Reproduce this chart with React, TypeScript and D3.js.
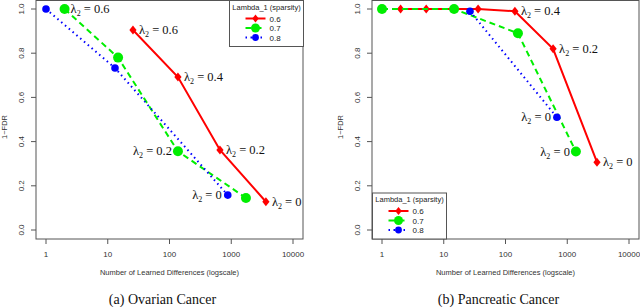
import * as d3 from 'd3';
import React from 'react';

// tick labels
const xTicks = [1, 10, 100, 1000, 10000];
const yTicks = [0, 0.2, 0.4, 0.6, 0.8, 1.0];
const legendLabels = ['0.6', '0.7', '0.8'];

// (a) Ovarian cancer
const ovRedX = [25.6, 137, 656, 3640];
const ovRedY = [0.905, 0.692, 0.362, 0.128];
const ovRedLab = ['0.6', '0.4', '0.2', '0'];
const ovGreenX = [2, 14.7, 137, 1730];
const ovGreenY = [1.0, 0.78, 0.356, 0.145];
const ovGreenLab = ['0.6', null, '0.2', null];
const ovBlueX = [1, 13.1, 878];
const ovBlueY = [1.0, 0.733, 0.158];
const ovBlueLab = [null, null, '0'];

// (b) Pancreatic cancer
const paRedX = [2, 5.2, 36, 142, 590, 3030];
const paRedY = [1.0, 1.0, 1.0, 0.99, 0.82, 0.307];
const paRedLab = [null, null, null, '0.4', '0.2', '0'];
const paGreenX = [1, 14.7, 159, 1380];
const paGreenY = [1.0, 1.0, 0.89, 0.355];
const paGreenLab = [null, null, null, '0'];
const paBlueX = [26.6, 680];
const paBlueY = [0.99, 0.51];
const paBlueLab = [null, '0'];

const RED = '#ff0000';
const GREEN = '#00ee00';
const BLUE = '#0000ff';
const SANS = "'Liberation Sans', Arial, sans-serif";
const SERIF = "'Liberation Serif', 'Times New Roman', serif";

const styles = [
  { color: RED, dash: undefined, marker: 'diamond', r: 4.5 },
  { color: GREEN, dash: '6,4', marker: 'circle', r: 5 },
  { color: BLUE, dash: '1.5,3.5', marker: 'circle', r: 3.8 },
];

const Marker = ({ kind, x, y, r, color }) =>
  kind === 'diamond' ? (
    <path d={`M${x},${y - r}L${x + r * 0.8},${y}L${x},${y + r}L${x - r * 0.8},${y}Z`} fill={color} />
  ) : (
    <circle cx={x} cy={y} r={r} fill={color} />
  );

const Lam = ({ x, y, value, anchor }) => (
  <text x={x} y={y + 4} style={{ fontFamily: SERIF }} fontSize={12.5} textAnchor={anchor} fill="#111">
    λ<tspan fontSize={8} dy={3}>2</tspan>
    <tspan dy={-3}> = {value}</tspan>
  </text>
);

const Legend = ({ x, y }) => (
  <g>
    <rect x={x} y={y} width={74} height={46} fill="white" stroke="#555" />
    <text x={x + 37} y={y + 9} style={{ fontFamily: SANS }} fontSize={7.5} textAnchor="middle" fill="#222">
      Lambda_1 (sparsity)
    </text>
    {styles.map((s, i) => {
      const ly = y + 18 + i * 9.5;
      return (
        <g key={i}>
          <line x1={x + 16} x2={x + 36} y1={ly} y2={ly} stroke={s.color} strokeWidth={2} strokeDasharray={s.dash} />
          <Marker kind={s.marker} x={x + 26} y={ly} r={s.r * 0.9} color={s.color} />
          <text x={x + 40} y={ly + 3} style={{ fontFamily: SANS }} fontSize={8} fill="#222">
            {legendLabels[i]}
          </text>
        </g>
      );
    })}
  </g>
);

const Panel = ({ left, series, labelSides, caption, legendPos }) => {
  const x0 = left;
  const x1 = left + 267;
  const xScale = d3.scaleLog().domain([1, 10000]).range([x0 + 10, x1 - 10]);
  const yScale = d3.scaleLinear().domain([0, 1]).range([230, 9]);
  const line = d3
    .line()
    .x((d) => xScale(d[0]))
    .y((d) => yScale(d[1]));

  return (
    <g>
      <rect x={x0} y={0.5} width={x1 - x0} height={238.5} fill="none" stroke="#555" />
      {xTicks.map((t) => (
        <g key={t}>
          <line x1={xScale(t)} x2={xScale(t)} y1={239} y2={244} stroke="#555" />
          <text x={xScale(t)} y={257} style={{ fontFamily: SANS }} fontSize={8} textAnchor="middle" fill="#333">
            {t}
          </text>
        </g>
      ))}
      {yTicks.map((t) => (
        <g key={t}>
          <line x1={x0 - 5} x2={x0} y1={yScale(t)} y2={yScale(t)} stroke="#555" />
          <text
            transform={`translate(${x0 - 12},${yScale(t)}) rotate(-90)`}
            style={{ fontFamily: SANS }}
            fontSize={8}
            textAnchor="middle"
            fill="#333"
          >
            {t.toFixed(1)}
          </text>
        </g>
      ))}
      <text
        transform={`translate(${x0 - 29},127) rotate(-90)`}
        style={{ fontFamily: SANS }}
        fontSize={7.5}
        textAnchor="middle"
        fill="#333"
      >
        1−FDR
      </text>
      <text x={(x0 + x1) / 2} y={275} style={{ fontFamily: SANS }} fontSize={7.5} textAnchor="middle" fill="#333">
        Number of Learned Differences (logscale)
      </text>
      <text
        x={(x0 + x1) / 2 - 7}
        y={304}
        style={{ fontFamily: SERIF }}
        fontSize={14}
        textAnchor="middle"
        fill="#111"
      >
        {caption}
      </text>
      {series.map((s, i) => {
        const pts = s.x.map((v, j) => [v, s.y[j]]);
        const st = styles[i];
        return (
          <g key={i}>
            <path d={line(pts)} fill="none" stroke={st.color} strokeWidth={2} strokeDasharray={st.dash} />
            {pts.map((p, j) => (
              <Marker key={j} kind={st.marker} x={xScale(p[0])} y={yScale(p[1])} r={st.r} color={st.color} />
            ))}
          </g>
        );
      })}
      {series.map((s, i) =>
        s.lab.map((lab, j) => {
          if (lab === null) return null;
          const side = labelSides[i][j];
          const px = xScale(s.x[j]);
          const py = yScale(s.y[j]);
          return (
            <Lam
              key={`${i}-${j}`}
              x={side === 'left' ? px - 6 : px + 6}
              y={py}
              value={lab}
              anchor={side === 'left' ? 'end' : 'start'}
            />
          );
        })
      )}
      <Legend x={legendPos[0]} y={legendPos[1]} />
    </g>
  );
};

export default function App() {
  const ovSeries = [
    { x: ovRedX, y: ovRedY, lab: ovRedLab },
    { x: ovGreenX, y: ovGreenY, lab: ovGreenLab },
    { x: ovBlueX, y: ovBlueY, lab: ovBlueLab },
  ];
  const paSeries = [
    { x: paRedX, y: paRedY, lab: paRedLab },
    { x: paGreenX, y: paGreenY, lab: paGreenLab },
    { x: paBlueX, y: paBlueY, lab: paBlueLab },
  ];
  const ovSides = [
    ['right', 'right', 'right', 'right'],
    ['right', 'right', 'left', 'right'],
    ['right', 'right', 'left'],
  ];
  const paSides = [
    ['right', 'right', 'right', 'right', 'right', 'right'],
    ['right', 'right', 'right', 'left'],
    ['right', 'left'],
  ];
  return (
    <svg
      width={640}
      height={307}
      style={{ position: 'absolute', left: 0, top: 0, background: 'white' }}
    >
      <Panel left={36} series={ovSeries} labelSides={ovSides} caption="(a) Ovarian Cancer" legendPos={[229.5, 0.5]} />
      <Panel
        left={372}
        series={paSeries}
        labelSides={paSides}
        caption="(b) Pancreatic Cancer"
        legendPos={[372.5, 193]}
      />
    </svg>
  );
}
